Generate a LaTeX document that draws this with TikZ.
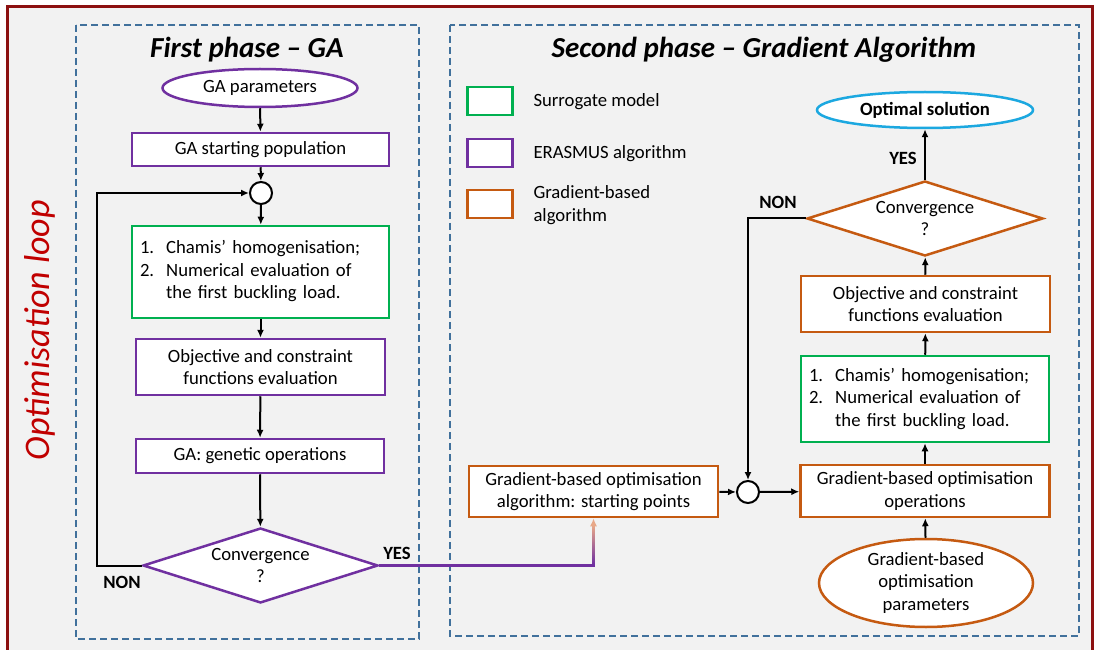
\documentclass[tikz,border=0pt]{standalone}
\usepackage{fontspec}
\setmainfont{Carlito}
\usetikzlibrary{shapes.geometric,arrows.meta}
\definecolor{bggray}{HTML}{F2F2F2}
\definecolor{framered}{HTML}{8C1010}
\definecolor{looptext}{HTML}{C00000}
\definecolor{dashblue}{HTML}{41719C}
\definecolor{surrgreen}{HTML}{00B050}
\definecolor{gapurple}{HTML}{7030A0}
\definecolor{gradorange}{HTML}{C55A11}
\definecolor{solcyan}{HTML}{1CA8E0}
\definecolor{peach}{HTML}{E8A888}
\tikzset{
  every node/.style={font=\fontsize{18.7}{22.5}\selectfont},
  box/.style={rectangle,draw,line width=2.5pt,fill=white,align=center,inner sep=0pt},
  gabox/.style={box,draw=gapurple},
  surrbox/.style={box,draw=surrgreen},
  gradbox/.style={box,draw=gradorange},
  decision/.style={diamond,draw,line width=2.5pt,fill=white,align=center,inner sep=0pt,aspect=3.13},
  terminal/.style={ellipse,draw,line width=2.5pt,fill=white,align=center,inner sep=0pt},
  junction/.style={circle,draw=black,line width=2pt,fill=white,minimum size=22pt,inner sep=0pt},
  arr/.style={black,line width=2pt,-{Latex[length=8pt,width=7pt]}},
  phasebox/.style={dashblue,line width=2.2pt,dash pattern=on 7pt off 4pt},
  answer/.style={font=\fontsize{18.7}{22.5}\selectfont\bfseries},
  phasetitle/.style={font=\fontsize{29}{34}\selectfont\bfseries\itshape}
}
\begin{document}
\begin{tikzpicture}[x=1pt,y=-1pt]
  \useasboundingbox (0,0) rectangle (1096,650);
  % frame and phases
  \fill[bggray] (7,7) rectangle (1092,660);
  \draw[framered,line width=3pt] (7,7) rectangle (1092,660);
  \draw[phasebox] (76,25) rectangle (419,639);
  \draw[phasebox] (450,25) rectangle (1079,636);
  \node[looptext,rotate=90,font=\fontsize{36}{40}\selectfont\itshape] (looplbl) at (40,330) {Optimisation loop};
  \node[phasetitle] (title1) at (247,50) {First phase -- GA};
  \node[phasetitle] (title2) at (764,50) {Second phase -- Gradient Algorithm};

  % first phase
  \node[terminal,draw=gapurple,minimum width=195pt,minimum height=38pt] (gapar) at (260,88) {GA parameters};
  \node[gabox,minimum width=257pt,minimum height=33pt] (gastart) at (260.5,149.5) {GA starting population};
  \node[junction] (junc1) at (261,193) {};
  \node[surrbox,minimum width=257pt,minimum height=92pt,text width=241pt,align=left] (chamis1) at (260.5,272)
    {\begin{tabular}{@{}l@{\hspace{12pt}}l@{}}1. & Chamis’ homogenisation;\\ 2. & Numerical evaluation of\\ & the first buckling load.\end{tabular}};
  \node[gabox,minimum width=249pt,minimum height=56pt] (obj1) at (260.5,367) {Objective and constraint\\functions evaluation};
  \node[gabox,minimum width=248pt,minimum height=34pt] (genop) at (260,456) {GA: genetic operations};
  \node[decision,draw=gapurple,minimum width=235pt,minimum height=75pt] (conv1) at (260.5,565.5) {Convergence\\?};
  \coordinate (loopL) at (97,565.5);
  \node[answer] (non1) at (122,582) {NON};
  \node[answer] (yes1) at (397,553) {YES};

  \draw[arr] (gapar) -- (gastart);
  \draw[arr] (gastart) -- (junc1);
  \draw[arr] (junc1) -- (chamis1);
  \draw[arr] (chamis1) -- (obj1);
  \draw[arr] (obj1) -- (genop);
  \draw[arr] (genop) -- (conv1);
  \draw[arr] (conv1.west) -- (loopL) |- (junc1.west);

  % second phase
  \node[surrbox,minimum width=45pt,minimum height=28pt] (legsurr) at (490,101) {};
  \node[gabox,minimum width=45pt,minimum height=28pt] (legga) at (490,153) {};
  \node[gradbox,minimum width=45pt,minimum height=28pt] (leggrad) at (490,204) {};
  \node[anchor=west] (legsurrtxt) at (530,102) {Surrogate model};
  \node[anchor=west] (leggatxt) at (530,154) {ERASMUS algorithm};
  \node[anchor=west,align=left] (leggradtxt) at (530,205) {Gradient-based\\algorithm};

  \node[gradbox,minimum width=249pt,minimum height=51pt] (start) at (593.5,491.5) {Gradient-based optimisation\\algorithm: starting points};
  \node[junction] (junc2) at (748,492) {};
  \node[gradbox,minimum width=249pt,minimum height=52pt] (gradop) at (925,491) {Gradient-based optimisation\\operations};
  \node[surrbox,minimum width=248pt,minimum height=86pt,text width=232pt,align=left] (chamis2) at (925,399)
    {\begin{tabular}{@{}l@{\hspace{12pt}}l@{}}1. & Chamis’ homogenisation;\\ 2. & Numerical evaluation of\\ & the first buckling load.\end{tabular}};
  \node[gradbox,minimum width=249pt,minimum height=56pt] (obj2) at (925.5,304) {Objective and constraint\\functions evaluation};
  \node[decision,draw=gradorange,minimum width=236pt,minimum height=75pt] (conv2) at (925,218.5) {Convergence\\?};
  \node[terminal,draw=solcyan,minimum width=216pt,minimum height=36pt,answer] (optsol) at (925,110) {Optimal solution};
  \node[terminal,draw=gradorange,minimum width=214pt,minimum height=88pt] (gradpar) at (926,583) {Gradient-based\\optimisation\\parameters};
  \node[answer] (non2) at (778,202) {NON};
  \node[answer] (yes2) at (903,158) {YES};

  % YES branch: purple, fading to peach near the tip
  \coordinate (yesturn) at (conv1.east -| start.south);
  \draw[gapurple,line width=2.5pt] (conv1.east) -- ([xshift=1.25pt]yesturn);
  \shade[bottom color=gapurple,top color=peach] ([xshift=-1.25pt,yshift=1.25pt]yesturn) rectangle ([xshift=1.25pt,yshift=-7pt]start.south);
  \draw[peach,line width=2pt,-{Latex[length=8pt,width=7pt]}] ([yshift=-8pt]start.south) -- (start.south);
  \draw[arr] (start) -- (junc2);
  \draw[arr] (junc2) -- (gradop);
  \draw[arr] (gradpar) -- (gradop);
  \draw[arr] (gradop) -- (chamis2);
  \draw[arr] (chamis2) -- (obj2);
  \draw[arr] (obj2) -- (conv2);
  \draw[arr] (conv2) -- (optsol);
  \draw[arr] (conv2.west) -| (junc2.north);
\end{tikzpicture}
\end{document}
